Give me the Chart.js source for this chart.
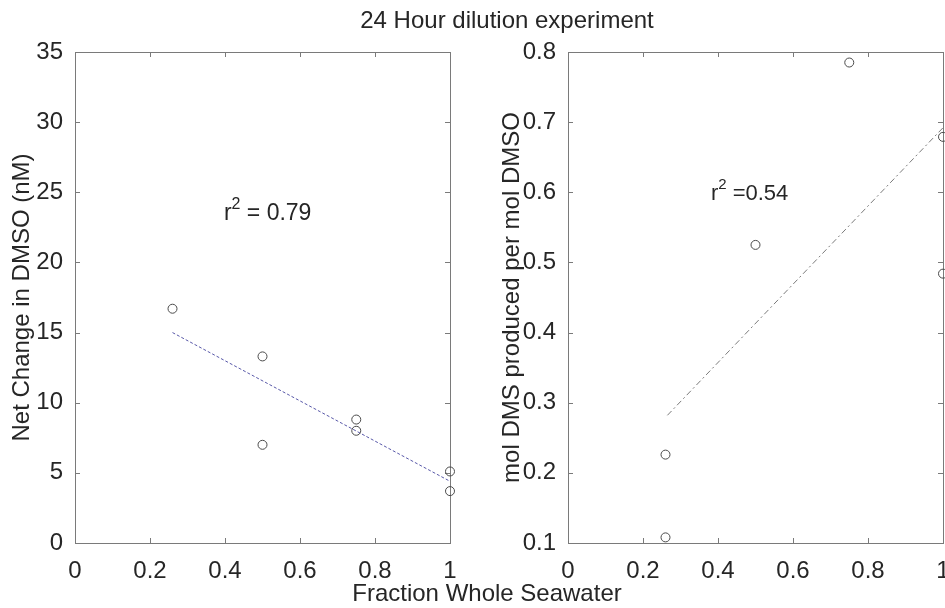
<!DOCTYPE html>
<html>
<head>
<meta charset="utf-8">
<title>24 Hour dilution experiment</title>
<script src="https://cdn.jsdelivr.net/npm/chart.js@4.4.1/dist/chart.umd.min.js"></script>
<style>
  html, body { margin: 0; padding: 0; background: #fff; width: 945px; height: 608px; overflow: hidden; }
  .box { position: absolute; top: 0; height: 608px; }
  #leftBox { left: 0; width: 470px; }
  #rightBox { left: 470px; width: 500px; }
  .txt { position: absolute; font-family: "Liberation Sans", Arial, Helvetica, sans-serif; font-size: 24px; line-height: 24px; color: #262626; white-space: nowrap; text-align: center; width: 400px; }
  #title { left: 307px; top: 8px; }
  #xlabel { left: 287px; top: 581px; }
</style>
</head>
<body>
<div class="box" id="leftBox"><canvas id="leftChart" width="470" height="608"></canvas></div>
<div class="box" id="rightBox"><canvas id="rightChart" width="500" height="608"></canvas></div>
<div class="txt" id="title">24 Hour dilution experiment</div>
<div class="txt" id="xlabel">Fraction Whole Seawater</div>
<script>
// left panel: net change in DMSO
const dmsoFraction = [0.26, 0.5, 0.5, 0.75, 0.75, 1.0, 1.0];
const dmsoChange = [16.7, 13.3, 7.0, 8.8, 8.0, 5.1, 3.7];
const dmsoFitX = [0.26, 1.0];
const dmsoFitY = [15.0, 4.4];

// right panel: mol DMS per mol DMSO
const dmsFraction = [0.26, 0.26, 0.5, 0.75, 1.0, 1.0];
const dmsPerDmso = [0.226, 0.108, 0.525, 0.785, 0.679, 0.484];
const dmsFitX = [0.265, 1.0];
const dmsFitY = [0.282, 0.692];

// tick labels
const xTicks = [0, 0.2, 0.4, 0.6, 0.8, 1];
const dmsoTicks = [0, 5, 10, 15, 20, 25, 30, 35];
const dmsTicks = [0.1, 0.2, 0.3, 0.4, 0.5, 0.6, 0.7, 0.8];

const FONT = '"Liberation Sans", Arial, Helvetica, sans-serif';
const TEXT = '#262626';
const AXIS = '#7a7a7a';

function toPoints(xs, ys) {
  return xs.map((x, i) => ({ x: x, y: ys[i] }));
}

// matlab style box with inward ticks on all sides, plus the r^2 note
const matlabAxes = {
  id: 'matlabAxes',
  beforeDatasetsDraw(chart) {
    const ctx = chart.ctx;
    const a = chart.chartArea;
    const sx = chart.scales.x;
    const sy = chart.scales.y;
    ctx.save();
    ctx.strokeStyle = AXIS;
    ctx.lineWidth = 1;
    ctx.strokeRect(a.left + 0.5, a.top + 0.5, a.right - a.left, a.bottom - a.top);
    ctx.beginPath();
    sx.ticks.forEach(t => {
      const px = Math.round(sx.getPixelForValue(t.value)) + 0.5;
      ctx.moveTo(px, a.bottom); ctx.lineTo(px, a.bottom - 5);
      ctx.moveTo(px, a.top); ctx.lineTo(px, a.top + 5);
    });
    sy.ticks.forEach(t => {
      const py = Math.round(sy.getPixelForValue(t.value)) + 0.5;
      ctx.moveTo(a.left, py); ctx.lineTo(a.left + 5, py);
      ctx.moveTo(a.right, py); ctx.lineTo(a.right - 5, py);
    });
    ctx.stroke();

    const note = chart.options.plugins.matlabAxes;
    if (note && note.text) {
      const px = sx.getPixelForValue(note.x);
      const py = sy.getPixelForValue(note.y);
      ctx.fillStyle = TEXT;
      ctx.textBaseline = 'alphabetic';
      ctx.textAlign = 'left';
      ctx.font = note.size + 'px ' + FONT;
      ctx.fillText('r', px, py);
      let w = ctx.measureText('r').width;
      ctx.font = Math.round(note.size * 0.68) + 'px ' + FONT;
      ctx.fillText('2', px + w, py - note.size * 0.5);
      w += ctx.measureText('2').width;
      ctx.font = note.size + 'px ' + FONT;
      ctx.fillText(note.text, px + w, py);
    }
    ctx.restore();
  }
};

function fixTicks(list) {
  return function(scale) {
    scale.ticks = list.map(v => ({ value: v }));
  };
}

function makeChart(id, cfg) {
  return new Chart(document.getElementById(id), {
    type: 'scatter',
    data: {
      datasets: [{
        type: 'scatter',
        data: cfg.points,
        pointStyle: 'circle',
        pointRadius: 4.5,
        pointHoverRadius: 4.5,
        borderColor: '#4a4a4a',
        backgroundColor: 'rgba(0,0,0,0)',
        borderWidth: 1,
        clip: false
      }, {
        type: 'line',
        data: cfg.fit,
        borderColor: cfg.fitColor,
        borderWidth: 1,
        borderDash: cfg.fitDash,
        pointRadius: 0,
        fill: false,
        clip: false
      }]
    },
    options: {
      responsive: false,
      animation: false,
      devicePixelRatio: 1,
      layout: { padding: cfg.padding },
      plugins: {
        legend: { display: false },
        tooltip: { enabled: false },
        matlabAxes: cfg.note
      },
      scales: {
        x: {
          type: 'linear',
          min: 0, max: 1,
          afterBuildTicks: fixTicks(xTicks),
          afterFit: s => { s.height = 65; },
          grid: { display: false },
          border: { display: false },
          ticks: {
            padding: 6,
            color: TEXT,
            font: { family: FONT, size: 24 },
            callback: v => String(v)
          }
        },
        y: {
          type: 'linear',
          min: cfg.yMin, max: cfg.yMax,
          afterBuildTicks: fixTicks(cfg.yTicks),
          afterFit: s => { s.width = cfg.yWidth; },
          grid: { display: false },
          border: { display: false },
          ticks: {
            padding: 4,
            color: TEXT,
            font: { family: FONT, size: 24 },
            callback: v => String(v)
          },
          title: {
            display: true,
            text: cfg.yTitle,
            color: TEXT,
            font: { family: FONT, size: 24 },
            padding: { top: cfg.titlePad, bottom: 0 }
          }
        }
      }
    },
    plugins: [matlabAxes]
  });
}

makeChart('leftChart', {
  points: toPoints(dmsoFraction, dmsoChange),
  fit: toPoints(dmsoFitX, dmsoFitY),
  fitColor: '#5858a8',
  fitDash: [3, 2],
  padding: { top: 52, left: 0, right: 20, bottom: 0 },
  yMin: 0, yMax: 35,
  yTicks: dmsoTicks,
  yWidth: 75,
  yTitle: 'Net Change in DMSO (nM)',
  titlePad: 8,
  note: { x: 0.397, y: 23.0, size: 23, text: ' = 0.79' }
});

makeChart('rightChart', {
  points: toPoints(dmsFraction, dmsPerDmso),
  fit: toPoints(dmsFitX, dmsFitY),
  fitColor: '#7a7a7a',
  fitDash: [6, 3, 2, 3],
  padding: { top: 52, left: 0, right: 27, bottom: 0 },
  yMin: 0.1, yMax: 0.8,
  yTicks: dmsTicks,
  yWidth: 98,
  yTitle: 'mol DMS produced per mol DMSO',
  titlePad: 28,
  note: { x: 0.381, y: 0.589, size: 22, text: ' =0.54' }
});
</script>
</body>
</html>
